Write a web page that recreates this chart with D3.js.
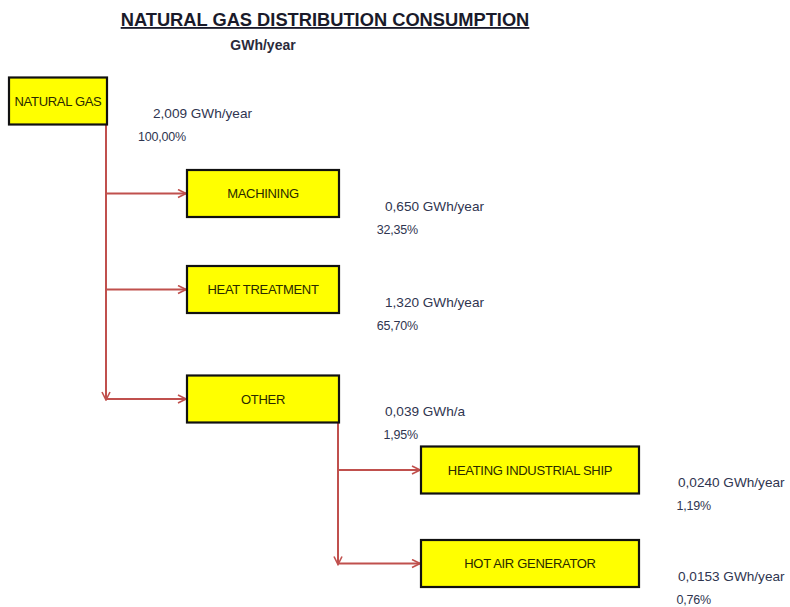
<!DOCTYPE html>
<html>
<head>
<meta charset="utf-8">
<script src="https://cdn.jsdelivr.net/npm/d3@7"></script>
<style>
  body { margin: 0; background: #fff; }
  text { font-family: "Liberation Sans", Arial, sans-serif; }
</style>
</head>
<body>
<script>
// flow data
const nodes = ["NATURAL GAS", "MACHINING", "HEAT TREATMENT", "OTHER", "HEATING INDUSTRIAL SHIP", "HOT AIR GENERATOR"];
const parents = [null, "NATURAL GAS", "NATURAL GAS", "NATURAL GAS", "OTHER", "OTHER"];
const levels = [0, 1, 1, 1, 2, 2];
const values = ["2,009", "0,650", "1,320", "0,039", "0,0240", "0,0153"];
const units = ["GWh/year", "GWh/year", "GWh/year", "GWh/a", "GWh/year", "GWh/year"];
const percents = ["100,00%", "32,35%", "65,70%", "1,95%", "1,19%", "0,76%"];

const w = 790;
const h = 607;
const lineColor = "#c0504d";

// layout scales
const xLeft = d3.scaleOrdinal().domain([0, 1, 2]).range([9, 187, 421]);
const boxW = d3.scaleOrdinal().domain([0, 1, 2]).range([98, 152, 218]);
const yMid = d3.scaleOrdinal().domain(nodes).range([101, 193.5, 289.5, 399, 470, 563.5]);
const boxH = 47;
const valueOffset = d3.scaleOrdinal().domain([0, 1, 2]).range([46, 46, 39]);

const data = nodes.map((name, i) => ({
  name,
  parent: parents[i],
  level: levels[i],
  value: values[i],
  unit: units[i],
  pct: percents[i],
}));

const svg = d3.select("body").append("svg").attr("width", w).attr("height", h);

svg.append("defs")
  .append("marker")
  .attr("id", "arrow")
  .attr("viewBox", "0 0 10 10")
  .attr("refX", 9)
  .attr("refY", 5)
  .attr("markerWidth", 5)
  .attr("markerHeight", 5)
  .attr("markerUnits", "strokeWidth")
  .attr("orient", "auto")
  .append("path")
  .attr("d", "M1,1 L9,5 L1,9")
  .attr("fill", "none")
  .attr("stroke", lineColor)
  .attr("stroke-width", 1.6);

// title
svg.append("text")
  .attr("x", 325)
  .attr("y", 26)
  .attr("text-anchor", "middle")
  .attr("font-size", 18.3)
  .attr("font-weight", "bold")
  .attr("fill", "#1a1a2a")
  .attr("text-decoration", "underline")
  .text("NATURAL GAS DISTRIBUTION CONSUMPTION");

svg.append("text")
  .attr("x", 263)
  .attr("y", 50)
  .attr("text-anchor", "middle")
  .attr("font-size", 14)
  .attr("font-weight", "bold")
  .attr("fill", "#2a2a3a")
  .text("GWh/year");

// connectors
const links = svg.append("g").attr("stroke", lineColor).attr("stroke-width", 2).attr("fill", "none");
const parentNames = Array.from(new Set(parents.filter((p) => p)));
parentNames.forEach((p) => {
  const pd = data.find((d) => d.name === p);
  const kids = data.filter((d) => d.parent === p);
  const vx = xLeft(pd.level) + boxW(pd.level) - 1;
  const lastY = yMid(kids[kids.length - 1].name);
  links.append("line")
    .attr("x1", vx)
    .attr("y1", yMid(p) + boxH / 2)
    .attr("x2", vx)
    .attr("y2", lastY + 1)
    .attr("marker-end", "url(#arrow)");
  kids.forEach((k) => {
    links.append("line")
      .attr("x1", vx)
      .attr("y1", yMid(k.name))
      .attr("x2", xLeft(k.level) - 1)
      .attr("y2", yMid(k.name))
      .attr("marker-end", "url(#arrow)");
  });
});

// boxes
const box = svg.selectAll("g.node")
  .data(data)
  .enter()
  .append("g")
  .attr("class", "node");

box.append("rect")
  .attr("x", (d) => xLeft(d.level))
  .attr("y", (d) => yMid(d.name) - boxH / 2)
  .attr("width", (d) => boxW(d.level))
  .attr("height", boxH)
  .attr("fill", "#ffff00")
  .attr("stroke", "#111")
  .attr("stroke-width", 2.2);

box.append("text")
  .attr("x", (d) => xLeft(d.level) + boxW(d.level) / 2)
  .attr("y", (d) => yMid(d.name) + 4.5)
  .attr("text-anchor", "middle")
  .attr("font-size", 13)
  .attr("letter-spacing", -0.3)
  .attr("fill", "#2a2a00")
  .text((d) => d.name);

// values and shares
box.append("text")
  .attr("x", (d) => xLeft(d.level) + boxW(d.level) + valueOffset(d.level))
  .attr("y", (d) => yMid(d.name) + 17)
  .attr("font-size", 13.6)
  .attr("fill", "#2f3550")
  .text((d) => d.value + " " + d.unit);

box.append("text")
  .attr("x", (d) => xLeft(d.level) + boxW(d.level) + valueOffset(d.level) + 33)
  .attr("y", (d) => yMid(d.name) + 40)
  .attr("text-anchor", "end")
  .attr("font-size", 12.5)
  .attr("letter-spacing", -0.2)
  .attr("fill", "#2f3550")
  .text((d) => d.pct);
</script>
</body>
</html>
